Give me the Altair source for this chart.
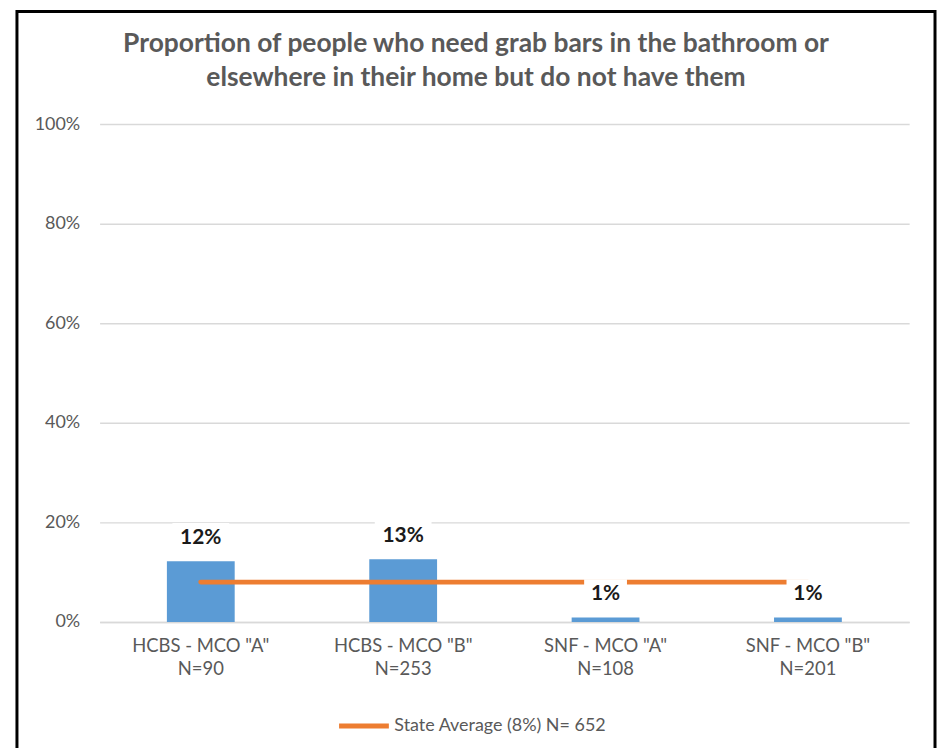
import altair as alt
import pandas as pd

groups = ['HCBS - MCO "A"', 'HCBS - MCO "B"', 'SNF - MCO "A"', 'SNF - MCO "B"']
ns = [90, 253, 108, 201]
values = [0.122, 0.126, 0.009, 0.009]
labels = ["12%", "13%", "1%", "1%"]
state_avg = 0.08
legend_name = "State Average (8%) N= 652"
title_lines = ["Proportion of people who need grab bars in the bathroom or",
               "elsewhere in their home but do not have them"]

cats = [f"{g}|N={n}" for g, n in zip(groups, ns)]
df = pd.DataFrame({"cat": cats, "value": values, "label": labels})
df["label_y"] = df["value"] + 0.047
df["box_lo"] = df["label_y"] - 0.028
df["box_hi"] = df["label_y"] + 0.03
df["box_w"] = df["label"].str.len() * 14 + 15
avg = pd.DataFrame({"cat": cats, "avg": [state_avg] * len(cats), "series": [legend_name] * len(cats)})
one = pd.DataFrame({"a": [0]})

GRAY = "#595959"
FONT = "Lato"

xscale = alt.Scale(paddingInner=0.665, paddingOuter=0.3325)
yscale = alt.Scale(domain=[0, 1])

x_enc = alt.X("cat:N", sort=cats, scale=xscale,
              axis=alt.Axis(title=None, labelAngle=0, labelExpr="split(datum.label, '|')",
                            labelFontSize=18.5, labelColor=GRAY, labelPadding=15,
                            labelLineHeight=23, ticks=False, domainColor="#d9d9d9",
                            domainWidth=1.5, labelFont=FONT))

bars = alt.Chart(df).mark_bar(color="#5B9BD5").encode(
    x=x_enc,
    y=alt.Y("value:Q", scale=yscale,
            axis=alt.Axis(title=None, format=".0%", values=[0, 0.2, 0.4, 0.6, 0.8, 1.0],
                          domain=False, ticks=False, labelPadding=20, labelFontSize=18,
                          labelColor=GRAY, gridColor="#d9d9d9", gridWidth=1.5, labelFont=FONT)),
)

line = alt.Chart(avg).mark_line(strokeWidth=5, strokeCap="round").encode(
    x=alt.X("cat:N", sort=cats, scale=xscale),
    y=alt.Y("avg:Q", scale=yscale),
    color=alt.Color("series:N", scale=alt.Scale(domain=[legend_name], range=["#ED7D31"]),
                    legend=alt.Legend(title=None, orient="none", legendX=238, legendY=577,
                                      symbolType="stroke", symbolSize=2500,
                                      symbolStrokeWidth=5, labelFontSize=18,
                                      labelColor=GRAY, labelFont=FONT, labelOffset=3,
                                      labelLimit=500)),
)

boxes = alt.Chart(df).mark_bar(color="white").encode(
    x=alt.X("cat:N", sort=cats, scale=xscale),
    y=alt.Y("box_lo:Q", scale=yscale),
    y2="box_hi:Q",
    size=alt.Size("box_w:Q", scale=None, legend=None),
)

text = alt.Chart(df).mark_text(fontSize=21, fontWeight="bold", color="#1a1a1a",
                               font=FONT, baseline="middle").encode(
    x=alt.X("cat:N", sort=cats, scale=xscale),
    y=alt.Y("label_y:Q", scale=yscale),
    text="label:N",
)

border = alt.Chart(one).mark_rect(
    fill="transparent", stroke="#000000", strokeWidth=3
).encode(x=alt.value(-83), x2=alt.value(839), y=alt.value(-113), y2=alt.value(700))

title_style = dict(fontSize=26.5, font=FONT, fontWeight="bold", color=GRAY,
                   align="center", baseline="middle")
title1 = alt.Chart(one).mark_text(text=title_lines[0], **title_style).encode(
    x=alt.value(378), y=alt.value(-80))
title2 = alt.Chart(one).mark_text(text=title_lines[1], **title_style).encode(
    x=alt.value(378), y=alt.value(-46))

chart = alt.layer(border, bars, line, boxes, text, title1, title2).properties(
    width=813, height=500,
    autosize=alt.AutoSizeParams(type="none"),
    padding={"left": 92, "top": 115, "right": 28, "bottom": 125},
).configure_view(stroke=None)

chart.save("out.html", embed_options={"renderer": "svg", "actions": False})
